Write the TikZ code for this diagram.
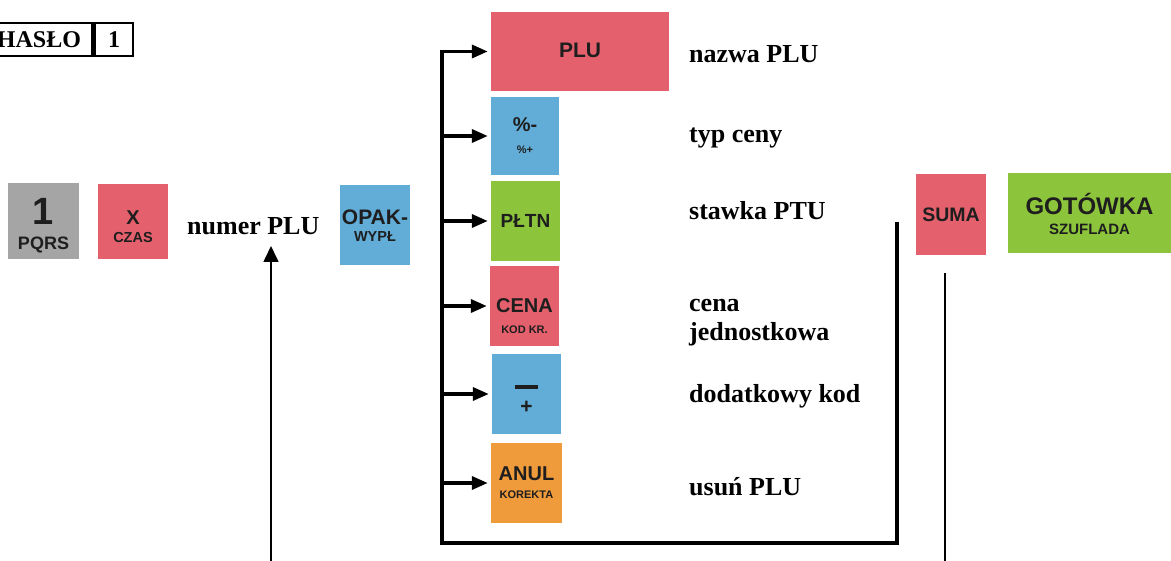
\documentclass[tikz,border=0pt]{standalone}
\usepackage{fontspec}
\setmainfont{Liberation Serif}
\newfontfamily\keyfam{Liberation Sans}
\usetikzlibrary{arrows.meta}
\newcommand{\kfs}[1]{\keyfam\bfseries\fontsize{#1}{#1}\selectfont}
\newcommand{\lfs}[1]{\bfseries\fontsize{#1}{29}\selectfont}
\definecolor{kred}{HTML}{E3606C}
\definecolor{kblue}{HTML}{62ADD8}
\definecolor{kgreen}{HTML}{8CC43C}
\definecolor{korange}{HTML}{EF9B3B}
\definecolor{kgray}{HTML}{A5A5A5}
\definecolor{ktext}{HTML}{1E1E1E}
\begin{document}
\begin{tikzpicture}[x=1pt,y=-1pt,
  key/.style={fill=#1, inner sep=0, draw=none},
  kt/.style={text=ktext, inner sep=0, anchor=base},
  lbl/.style={anchor=base west, inner sep=0, font=\lfs{26}, align=left},
  hbox/.style={draw, line width=2.5, inner sep=0, font=\lfs{24}, minimum height=33},
  bus/.style={line width=3.5, line join=miter},
  busarr/.style={bus, -{Triangle[length=16,width=13]}, shorten >=3},
  thinarr/.style={line width=1.6, -{Triangle[length=16,width=15]}},
  thinline/.style={line width=1.6}]
\useasboundingbox (0,0) rectangle (1171,561);

% HASLO box
\node[hbox, minimum width=38] (hone) at (114,39.5) {1};
\node[hbox, minimum width=107, anchor=east] (hlab) at (hone.west) {HASŁO};

% keys, left group
\node[key=kgray, minimum width=71, minimum height=76] (k1) at (43.5,221) {};
\node[kt, font=\kfs{38}] (k1a) at (43.5,225) {1};
\node[kt, font=\kfs{18}] (k1b) at (43.5,250) {PQRS};

\node[key=kred, minimum width=70, minimum height=75] (kx) at (133,221.5) {};
\node[kt, font=\kfs{20}] (kxa) at (133,225) {X};
\node[kt, font=\kfs{14.5}] (kxb) at (133,243) {CZAS};

\node[lbl] (numer) at (187,235) {numer PLU};

\node[key=kblue, minimum width=70, minimum height=80] (kopak) at (375,225) {};
\node[kt, font=\kfs{21}] (kopaka) at (375,225) {OPAK-};
\node[kt, font=\kfs{14.5}] (kopakb) at (375,242) {WYPŁ};

% keys, column
\node[key=kred, minimum width=178, minimum height=79] (kplu) at (580,51.5) {};
\node[kt, font=\kfs{21}] (kplua) at (580,58) {PLU};

\node[key=kblue, minimum width=68, minimum height=78] (kpct) at (525,136) {};
\node[kt, font=\kfs{20}] (kpcta) at (525,132) {\%-};
\node[kt, font=\kfs{11}] (kpctb) at (525,154) {\%+};

\node[key=kgreen, minimum width=69, minimum height=80] (kpltn) at (525.5,221) {};
\node[kt, font=\kfs{19}] (kpltna) at (525.5,228) {PŁTN};

\node[key=kred, minimum width=69, minimum height=80] (kcena) at (524.5,306) {};
\node[kt, font=\kfs{20}] (kcenaa) at (524.5,313) {CENA};
\node[kt, font=\kfs{11}] (kcenab) at (524.5,334) {KOD KR.};

\node[key=kblue, minimum width=69, minimum height=80] (kpm) at (526.5,394) {};
\node[kt] (kpma) at (526.5,389) {\color{ktext}\rule{23pt}{4pt}};
\node[kt, font=\kfs{21}] (kpmb) at (526.5,414) {+};

\node[key=korange, minimum width=71, minimum height=80] (kanul) at (526.5,483) {};
\node[kt, font=\kfs{20}] (kanula) at (526.5,480) {ANUL};
\node[kt, font=\kfs{11}] (kanulb) at (526.5,498) {KOREKTA};

% labels
\node[lbl] (lnazwa) at (689,63) {nazwa PLU};
\node[lbl] (ltyp) at (689,143) {typ ceny};
\node[lbl] (lstawka) at (689,220) {stawka PTU};
\node[lbl] (lcena) at (689,341) {cena\\jednostkowa};
\node[lbl] (ldod) at (689,403) {dodatkowy kod};
\node[lbl] (lusun) at (689,495) {usuń PLU};

% right keys
\node[key=kred, minimum width=70, minimum height=81] (ksuma) at (951,214.5) {};
\node[kt, font=\kfs{19.5}] (ksumaa) at (951,222) {SUMA};

\node[key=kgreen, minimum width=163, minimum height=80] (kgot) at (1089.5,213) {};
\node[kt, font=\kfs{24}] (kgota) at (1089.5,215) {GOTÓWKA};
\node[kt, font=\kfs{15}] (kgotb) at (1089.5,235) {SZUFLADA};

% connectors
\coordinate (lbot) at (442,543);
\coordinate (rbot) at (897,543);
\coordinate (rtop) at (897,222);
\draw[busarr] (rtop) -- (rbot) -- (lbot) -- (kplu.west -| lbot) -- (kplu.west);
\foreach \k in {kpct,kpltn,kcena,kpm,kanul}
  \draw[busarr] (\k.west -| lbot) -- (\k.west);

\coordinate (nbot) at (271,561);
\coordinate (ntip) at (271,246);
\draw[thinarr] (nbot) -- (ntip);

\coordinate (sbot) at (945,561);
\coordinate (stop) at (945,273);
\draw[thinline] (sbot) -- (stop);
\end{tikzpicture}
\end{document}
